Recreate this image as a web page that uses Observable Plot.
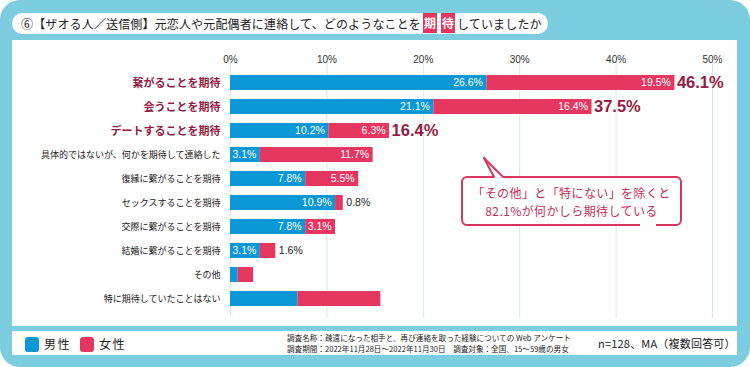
<!DOCTYPE html>
<html lang="ja">
<head>
<meta charset="utf-8">
<script src="https://cdn.jsdelivr.net/npm/d3@7"></script>
<script src="https://cdn.jsdelivr.net/npm/@observablehq/plot@0.6"></script>
<style>
  html, body { margin: 0; padding: 0; background: #ffffff; }
  body { width: 750px; height: 367px; overflow: hidden; font-family: "Noto Sans CJK JP", "Noto Sans", sans-serif; }
  #frame { position: absolute; left: 0; top: 0; width: 750px; height: 367px; background: #7dcde0; border-radius: 20px; }
  #title { position: absolute; left: 12px; top: 13px; width: 536px; height: 21px; background: #fff; border-radius: 11px;
           font-size: 12px; line-height: 21px; color: #222; padding-left: 9px; box-sizing: border-box; white-space: nowrap; letter-spacing: 0.15px; }
  #title .hl { display: inline-block; background: #e3375f; color: #fff; width: 14px; height: 20px; line-height: 20px;
               text-align: center; margin: 0 2px; vertical-align: top; font-weight: bold; }
  #panel { position: absolute; left: 12px; top: 40px; width: 725px; height: 286px; background: #fff; }
  #chart { position: absolute; left: 12px; top: 42px; }
  g[aria-label="normal-labels"] text { letter-spacing: 0.6px; }
  #footer { position: absolute; left: 12px; top: 331px; width: 725px; height: 24px; background: #fff; }
  .sw { position: absolute; top: 6px; width: 14px; height: 15px; border-radius: 3px; }
  .lg { position: absolute; top: 1px; font-size: 12px; letter-spacing: 1.5px; color: #222; line-height: 24px; }
  #notes { position: absolute; left: 275px; top: 2px; font-size: 7.6px; line-height: 10.5px; color: #222; white-space: nowrap; }
  #n { position: absolute; left: 586px; top: 0px; font-size: 11px; line-height: 24px; color: #222; white-space: nowrap; letter-spacing: 0.2px; }
  #callout { position: absolute; left: 461px; top: 176px; width: 221px; height: 50px; border: 2px solid #d8365e; border-radius: 6px;
             box-sizing: border-box; background: #fff; color: #c62e57; font-size: 12px; letter-spacing: 0.4px; text-align: center;
             line-height: 18px; padding-top: 6px; }
  #gap { position: absolute; left: 640px; top: 222px; width: 16px; height: 6px; background: #fff; }
  #tail { position: absolute; left: 478px; top: 154px; }
</style>
</head>
<body>
<div id="frame"></div>
<div id="title">⑥【ザオる人／送信側】元恋人や元配偶者に連絡して、どのようなことを<span class="hl">期</span><span class="hl">待</span>していましたか</div>
<div id="panel"></div>
<div id="chart"></div>
<div id="callout">「その他」と「特にない」を除くと<br>82.1%が何かしら期待している</div>
<div id="gap"></div>
<svg id="tail" width="30" height="26">
  <polygon points="6,4 16,24 26,24" fill="#fff" stroke="none"></polygon>
  <line x1="6" y1="4" x2="16" y2="23" stroke="#d8365e" stroke-width="2" stroke-linecap="round"></line>
  <line x1="6" y1="4" x2="25" y2="23" stroke="#d8365e" stroke-width="2" stroke-linecap="round"></line>
</svg>
<div id="footer">
  <div class="sw" style="left:13px;background:#0b98d7"></div>
  <div class="lg" style="left:32px">男性</div>
  <div class="sw" style="left:68px;background:#e5375f"></div>
  <div class="lg" style="left:87px">女性</div>
  <div id="notes">調査名称：疎遠になった相手と、再び連絡を取った経験についての Web アンケート<br>調査期間：2022年11月28日～2022年11月30日　調査対象：全国、15～59歳の男女</div>
  <div id="n">n=128、MA（複数回答可）</div>
</div>
<script>
const categories = [
  "繋がることを期待",
  "会うことを期待",
  "デートすることを期待",
  "具体的ではないが、何かを期待して連絡した",
  "復縁に繋がることを期待",
  "セックスすることを期待",
  "交際に繋がることを期待",
  "結婚に繋がることを期待",
  "その他",
  "特に期待していたことはない"
];
const male   = [26.6, 21.1, 10.2, 3.1, 7.8, 10.9, 7.8, 3.1, 0.8, 7.0];
const female = [19.5, 16.4, 6.3, 11.7, 5.5, 0.8, 3.1, 1.6, 1.6, 8.6];
const totalLabels = ["46.1%", "37.5%", "16.4%", null, null, null, null, null, null, null];
const highlight = [true, true, true, false, false, false, false, false, false, false];
const showValues = [true, true, true, true, true, true, true, true, false, false];
const sexes = ["男性", "女性"];
const xTicks = [0, 10, 20, 30, 40, 50];

const BLUE = "#0b98d7", RED = "#e5375f", MAROON = "#941c44";
const NUMFONT = "'Liberation Sans', Arial, sans-serif";

const rows = categories.flatMap((c, i) => [
  {cat: c, sex: sexes[0], value: male[i], i},
  {cat: c, sex: sexes[1], value: female[i], i}
]);
const fmt = v => v.toFixed(1) + "%";

const chart = Plot.plot({
  width: 725,
  height: 285,
  marginLeft: 218,
  marginRight: 25,
  marginTop: 28,
  marginBottom: 17,
  style: {fontFamily: "'Noto Sans CJK JP', 'Noto Sans', sans-serif", background: "transparent", overflow: "visible"},
  x: {domain: [0, 50], axis: null},
  y: {domain: categories, paddingInner: 0.38, paddingOuter: 0.19, axis: null},
  color: {domain: sexes, range: [BLUE, RED]},
  marks: [
    Plot.ruleX(xTicks, {x: d => d, stroke: "#d4e8f1", strokeWidth: 1, insetTop: -8, insetBottom: -8}),
    Plot.text(xTicks, {x: d => d, text: d => d + "%", frameAnchor: "top", dy: -15, fontSize: 10, fill: "#333", fontFamily: NUMFONT}),
    Plot.barX(rows, {x: "value", y: "cat", fill: "sex"}),
    Plot.text(rows, Plot.stackX2({x: "value", y: "cat",
      text: d => showValues[d.i] && d.value >= 2.5 ? fmt(d.value) : "",
      fill: "white", textAnchor: "end", dx: -4, fontSize: 10.5, fontFamily: NUMFONT})),
    Plot.text(rows, Plot.stackX2({x: "value", y: "cat",
      text: d => showValues[d.i] && d.value < 2.5 ? fmt(d.value) : "",
      fill: "#222", textAnchor: "start", dx: 3, fontSize: 10.5, fontFamily: NUMFONT})),
    Plot.text(rows, Plot.stackX2({x: "value", y: "cat",
      text: d => d.sex === sexes[1] && totalLabels[d.i] ? totalLabels[d.i] : "",
      fill: MAROON, textAnchor: "start", dx: 2, fontSize: 16.5, fontWeight: "bold", fontFamily: NUMFONT})),
    Plot.text(categories.filter((c, i) => highlight[i]), {y: d => d, text: d => d, frameAnchor: "left",
      textAnchor: "end", dx: -10, fill: MAROON, fontSize: 11, fontWeight: "bold"}),
    Plot.text(categories.filter((c, i) => !highlight[i]), {y: d => d, text: d => d, frameAnchor: "left",
      textAnchor: "end", dx: -10, fill: "#222", fontSize: 9, ariaLabel: "normal-labels"})
  ]
});
document.getElementById("chart").appendChild(chart);
</script>
</body>
</html>
